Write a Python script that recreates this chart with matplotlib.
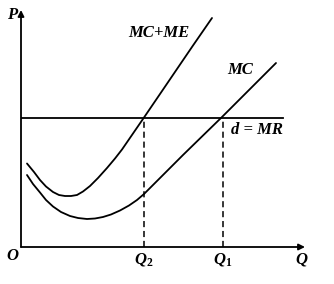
import numpy as np
import matplotlib
matplotlib.use("Agg")
import matplotlib.pyplot as plt

plt.rcParams['font.family'] = ['Liberation Serif', 'DejaVu Serif']
plt.rcParams['mathtext.fontset'] = 'custom'
plt.rcParams['mathtext.rm'] = 'Liberation Serif:bold'
plt.rcParams['mathtext.it'] = 'Liberation Serif:bold:italic'

# Curves (Q, P) with origin at O
mcme_q = [6, 13, 19, 25, 32, 38, 44, 50, 56, 62, 69, 77, 86, 94, 101, 112, 123,
          139, 156, 172, 191]
mcme_p = [83.5, 75, 67, 60.5, 55, 52, 51, 51, 52, 55.5, 61, 69, 79, 88.5, 97.5, 113.5, 129.5,
          153, 178, 201.5, 229]
mc_q = [6, 12, 19, 25, 32, 40, 49, 57, 66, 74, 82, 90, 99, 108, 116, 123, 136, 149,
        162, 182, 201, 217, 235, 255]
mc_p = [72, 63, 54.5, 47, 40.5, 35, 31, 29, 28, 28.5, 30, 32.5, 36.5, 41.5, 47, 53, 66, 79,
        92, 111.5, 130, 146, 164, 184]
price = 129
q2, q1 = 123, 202
q_max, p_max = 284, 237
line_end = 262

fig = plt.figure(figsize=(3.34, 2.84), dpi=100)
ax = fig.add_axes([21 / 334, (284 - 247) / 284, 1 - 21 / 334, 247 / 284])
ax.set_xlim(0, 313)
ax.set_ylim(0, 247)
ax.axis('off')

lw = 1.3
# axes with arrows
ax.annotate('', xy=(q_max, 0), xytext=(0, 0),
            arrowprops=dict(arrowstyle='-|>', lw=lw, color='black',
                            mutation_scale=9, shrinkA=0, shrinkB=0))
ax.annotate('', xy=(0, p_max), xytext=(0, 0),
            arrowprops=dict(arrowstyle='-|>', lw=lw, color='black',
                            mutation_scale=9, shrinkA=0, shrinkB=0))

ax.plot(mcme_q, mcme_p, color='black', lw=lw, solid_joinstyle='round', solid_capstyle='round')
ax.plot(mc_q, mc_p, color='black', lw=lw, solid_joinstyle='round', solid_capstyle='round')
ax.plot([0, line_end], [price, price], color='black', lw=lw)

for q in (q2, q1):
    ax.plot([q, q], [0, price], color='black', lw=1.1, ls=(0, (4, 2.5)))

fs = 12
ax.text(-9, 232, 'P', style='italic', weight='bold', fontsize=fs, ha='center', va='center')
ax.text(-9, -9, 'O', style='italic', weight='bold', fontsize=fs, ha='center', va='center')
ax.text(q_max - 4, -13, 'Q', style='italic', weight='bold', fontsize=fs, ha='center', va='center')
ax.text(q2, -12, r'$Q_2$', fontsize=fs, ha='center', va='center')
ax.text(q1, -12, r'$Q_1$', fontsize=fs, ha='center', va='center')
ax.text(138, 214, 'MC+ME', style='italic', weight='bold', fontsize=fs, ha='center', va='center')
ax.text(219, 177, 'MC', style='italic', weight='bold', fontsize=fs, ha='center', va='center')
ax.text(236, 117, 'd = MR', style='italic', weight='bold', fontsize=fs, ha='center', va='center')

fig.savefig('out.png', dpi=100)
